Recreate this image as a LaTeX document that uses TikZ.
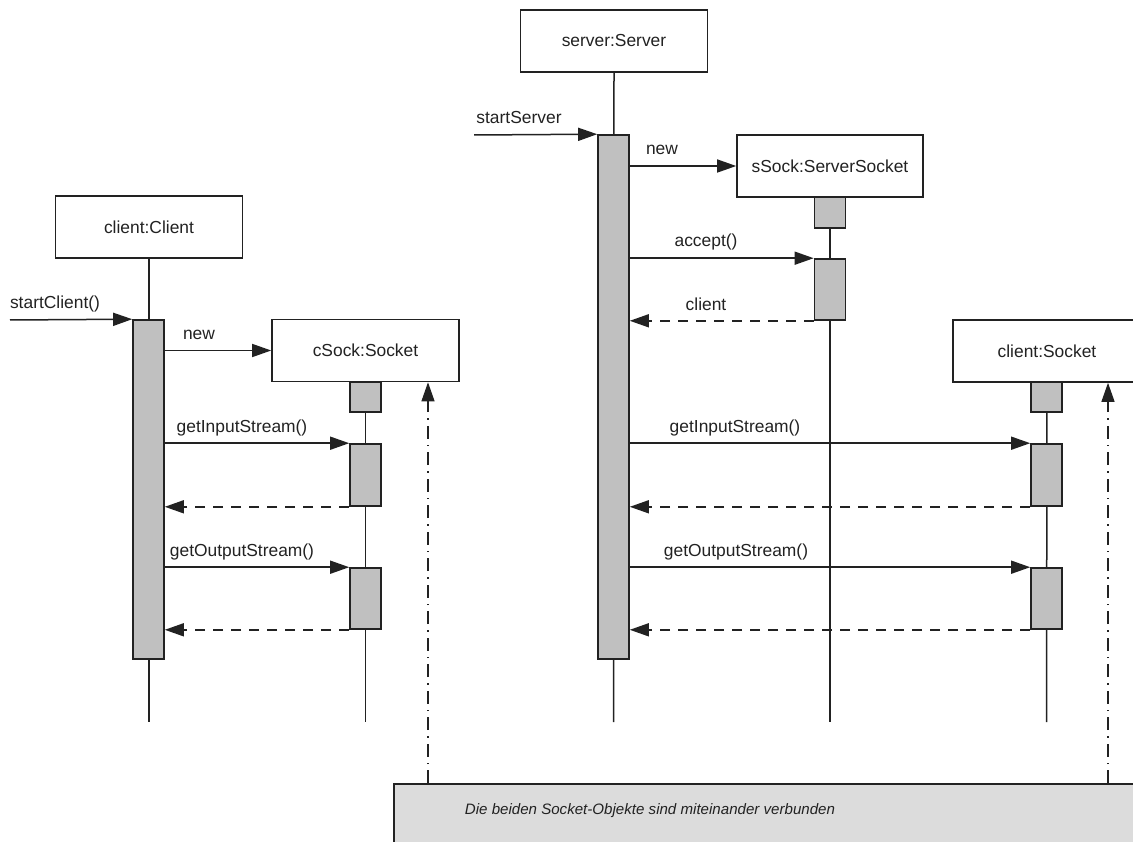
\documentclass[tikz,border=0pt]{standalone}
\usepackage{fontspec}
\setmainfont{Liberation Sans}
\usetikzlibrary{arrows.meta}
\definecolor{ink}{HTML}{222222}
\definecolor{actfill}{HTML}{C0C0C0}
\definecolor{notefill}{HTML}{DCDCDC}
\tikzset{
  obj/.style={draw=ink, line width=1.6pt, fill=white, minimum width=187pt, minimum height=62pt, inner sep=0pt, font=\fontsize{17.4}{20}\selectfont, text=ink},
  actbar/.style={draw=ink, line width=1.6pt, fill=actfill, minimum width=31pt, inner sep=0pt},
  life/.style={draw=ink, line width=1.5pt},
  msg/.style={draw=ink, line width=1.5pt, -{Triangle[length=19pt,width=13pt]}},
  ret/.style={msg, dash pattern=on 10pt off 8pt},
  link/.style={draw=ink, line width=1.2pt, dash pattern=on 13pt off 6pt on 1.5pt off 6pt, -{Triangle[length=19pt,width=13pt]}},
  lbl/.style={font=\fontsize{17.4}{20}\selectfont, text=ink, inner sep=0pt},
}
\begin{document}
\begin{tikzpicture}[x=1pt,y=-1pt]
\useasboundingbox (0,0) rectangle (1133,842);
\begin{scope}
\clip (0,0) rectangle (1133,842);
% objects
\node[obj] (client) at (149,227) {client:Client};
\node[obj] (cSock) at (365.5,350.5) {cSock:Socket};
\node[obj] (server) at (614,41) {server:Server};
\node[obj, minimum width=186pt] (sSock) at (830,166) {sSock:ServerSocket};
\node[obj, minimum width=188pt] (clientS) at (1047,351) {client:Socket};
% lifeline ends
\coordinate (endC) at (149,722);
\coordinate (endCS) at (365.5,722);
\coordinate (endS) at (613.5,722);
\coordinate (endSS) at (830,722);
\coordinate (endCl) at (1046.5,722);
\draw[life] (client.south) -- (endC);
\draw[life] (cSock.south) -- (endCS);
\draw[life] (server.south) -- (endS);
\draw[life] (sSock.south) -- (endSS);
\draw[life] (clientS.south) -- (endCl);
% activation bars
\node[actbar, minimum height=339pt] (actC) at (148.5,489.5) {};
\node[actbar, minimum height=524pt] (actS) at (613.5,397) {};
\node[actbar, minimum height=30pt] (cs0) at (365.5,397) {};
\node[actbar, minimum height=62pt] (cs1) at (365.5,475) {};
\node[actbar, minimum height=61pt] (cs2) at (365.5,598.5) {};
\node[actbar, minimum height=31pt] (ss0) at (830,212.5) {};
\node[actbar, minimum height=61pt] (ss1) at (830,289.5) {};
\node[actbar, minimum height=30pt] (cl0) at (1046.5,397) {};
\node[actbar, minimum height=62pt] (cl1) at (1046.5,475) {};
\node[actbar, minimum height=61pt] (cl2) at (1046.5,598.5) {};
% found messages
\coordinate (startC) at (10,320);
\coordinate (startS) at (474,135);
\draw[msg] (startC) -- (actC.north west);
\node[lbl] (lStartC) at (55,304) {startClient()};
\draw[msg] (startS) -- (actS.north west);
\node[lbl] (lStartS) at (519,118) {startServer};
% client side
\draw[msg] (cSock.west -| actC.east) -- (cSock.west);
\node[lbl] (lNewC) at (199,335) {new};
\draw[msg] (cs1.north west -| actC.east) -- (cs1.north west);
\node[lbl] (lInC) at (242,428) {getInputStream()};
\draw[ret] (cs1.south west) -- (cs1.south west -| actC.east);
\draw[msg] (cs2.north west -| actC.east) -- (cs2.north west);
\node[lbl] (lOutC) at (242,552) {getOutputStream()};
\draw[ret] (cs2.south west) -- (cs2.south west -| actC.east);
% server side
\draw[msg] (sSock.west -| actS.east) -- (sSock.west);
\node[lbl] (lNewS) at (662,150) {new};
\draw[msg] (ss1.north west -| actS.east) -- (ss1.north west);
\node[lbl] (lAcc) at (706,242) {accept()};
\draw[ret] (ss1.south west) -- (ss1.south west -| actS.east);
\node[lbl] (lCli) at (706,304) {client};
\draw[msg] (cl1.north west -| actS.east) -- (cl1.north west);
\node[lbl] (lInS) at (735,428) {getInputStream()};
\draw[ret] (cl1.south west) -- (cl1.south west -| actS.east);
\draw[msg] (cl2.north west -| actS.east) -- (cl2.north west);
\node[lbl] (lOutS) at (736,552) {getOutputStream()};
\draw[ret] (cl2.south west) -- (cl2.south west -| actS.east);
% note
\node[draw=ink, line width=1.6pt, fill=notefill, minimum width=760pt, minimum height=70pt, inner sep=0pt, anchor=north west] (note) at (393,783) {};
\node[font=\fontsize{15.1}{18}\selectfont\itshape, text=ink, inner sep=0pt] (noteText) at (650,811) {Die beiden Socket-Objekte sind miteinander verbunden};
\coordinate (n1) at (428,783);
\coordinate (n2) at (1108,783);
\draw[link] (n1) -- (n1 |- cSock.south);
\draw[link] (n2) -- (n2 |- clientS.south);
\end{scope}
\end{tikzpicture}
\end{document}
